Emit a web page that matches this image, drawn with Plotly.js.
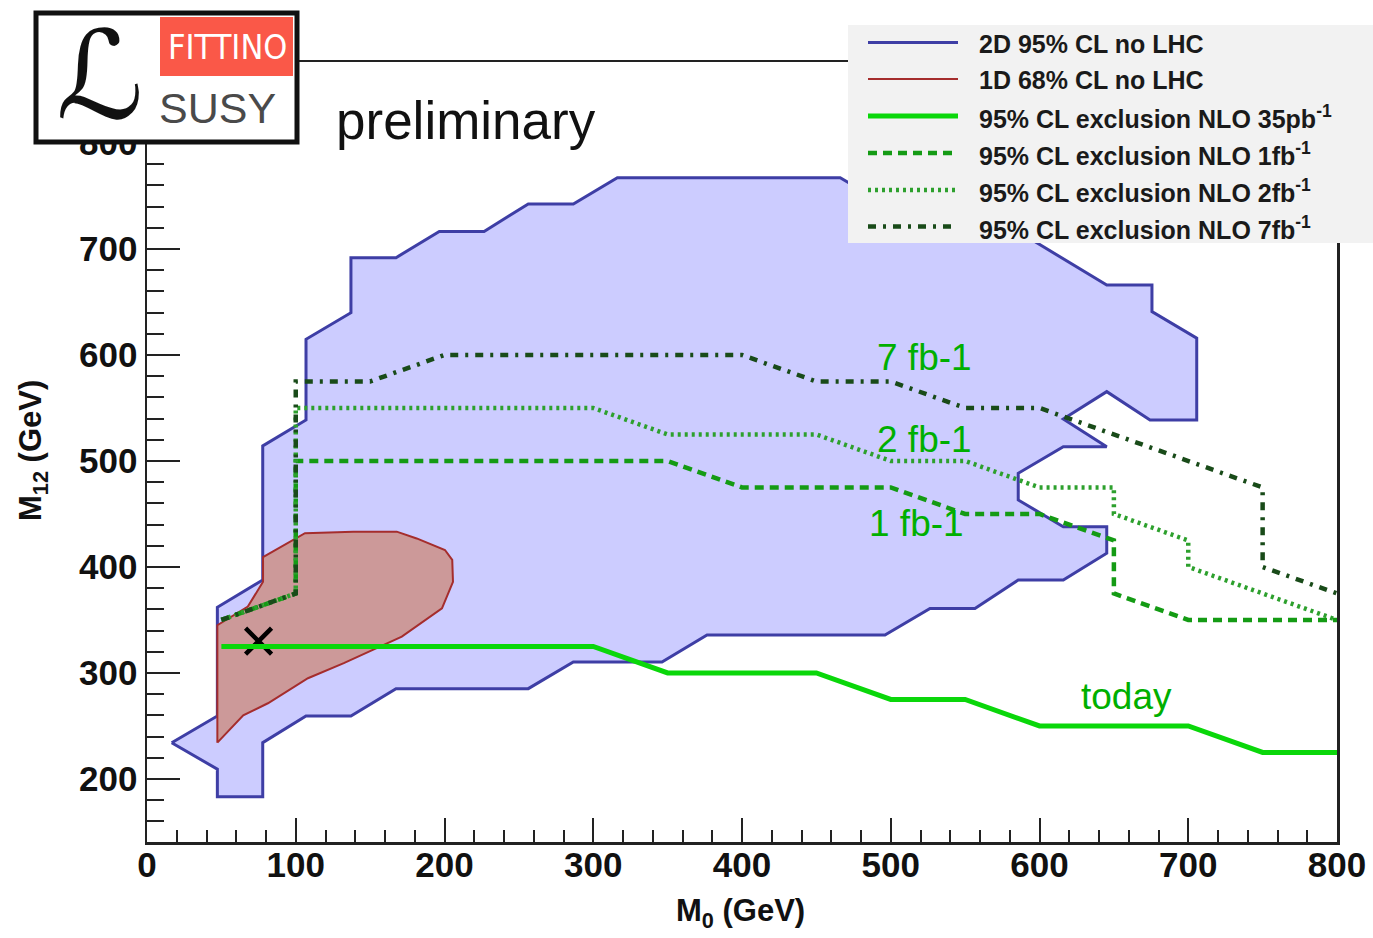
<!DOCTYPE html>
<html>
<head>
<meta charset="utf-8">
<script src="https://cdn.plot.ly/plotly-3.0.1.min.js"></script>
<style>html,body{margin:0;padding:0;background:#fff;}#chart{width:1373px;height:938px;}</style>
</head>
<body>
<div id="chart"></div>
<script>
// ---------------- data ----------------
const seriesNames = [
  '2D 95% CL no LHC',
  '1D 68% CL no LHC',
  '95% CL exclusion NLO 35pb<sup>-1</sup>',
  '95% CL exclusion NLO 1fb<sup>-1</sup>',
  '95% CL exclusion NLO 2fb<sup>-1</sup>',
  '95% CL exclusion NLO 7fb<sup>-1</sup>'
];

// 2D 95% CL region (no LHC)
const blueX = [16.6, 47.3, 47.3, 77.8, 77.8, 106.9, 137.1, 167.4, 256.3, 286.6, 346.2, 376.5, 496.1, 526.4, 556.6, 585.7, 616.0, 645.2, 645.2, 616.0, 585.7, 585.7, 616.0, 645.2, 616.0, 645.2, 674.3, 705.7, 705.7, 675.6, 675.6, 645.2, 585.7, 556.6, 526.4, 496.1, 466.0, 316.2, 286.6, 256.3, 226.6, 196.5, 167.4, 137.1, 137.1, 106.9, 106.9, 77.8, 77.8, 47.3, 47.3, 16.6];
const blueY = [234.2, 209.2, 183.3, 183.3, 234.2, 259.4, 259.4, 285.2, 285.2, 310.4, 310.4, 335.8, 335.8, 360.8, 360.8, 387.7, 387.7, 412.9, 438.0, 438.0, 463.2, 488.4, 513.5, 513.5, 539.5, 565.4, 538.7, 538.7, 615.8, 640.9, 666.0, 666.0, 716.4, 716.4, 742.5, 742.5, 767.3, 767.3, 742.5, 742.5, 716.4, 716.4, 691.8, 691.8, 639.9, 614.8, 538.7, 514.2, 387.7, 362.0, 259.4, 234.2];

// 1D 68% CL region (no LHC)
const redX = [47.3, 47.3, 67.8, 78.0, 78.0, 106.2, 138.7, 167.9, 181.3, 200.3, 205.2, 205.7, 198.3, 171.3, 151.8, 132.3, 108.2, 81.3, 64.7, 47.3];
const redY = [234.2, 345.0, 362.6, 386.0, 409.2, 431.8, 433.3, 433.3, 426.9, 416.0, 406.6, 386.0, 361.0, 334.2, 321.7, 309.2, 295.0, 271.4, 260.0, 234.2];

// exclusion lines
const excl35pbX = [50, 300, 350, 450, 500, 550, 600, 700, 750, 800];
const excl35pbY = [325, 325, 300, 300, 275, 275, 250, 250, 225, 225];
const excl1fbX = [50, 100, 100, 350, 400, 500, 550, 600, 650, 650, 700, 800];
const excl1fbY = [350, 375, 500, 500, 475, 475, 450, 450, 425, 375, 350, 350];
const excl2fbX = [50, 100, 100, 300, 350, 450, 500, 550, 600, 650, 650, 700, 700, 800];
const excl2fbY = [350, 375, 550, 550, 525, 525, 500, 500, 475, 475, 450, 425, 400, 350];
const excl7fbX = [50, 100, 100, 150, 200, 400, 450, 500, 550, 600, 750, 750, 800];
const excl7fbY = [350, 375, 575, 575, 600, 600, 575, 575, 550, 550, 475, 400, 375];

// best fit point
const bestFitX = [75];
const bestFitY = [330];

// tick labels
const xTicks = [0, 100, 200, 300, 400, 500, 600, 700, 800];
const yTicks = [200, 300, 400, 500, 600, 700, 800];

// curve labels
const curveLabels = ['7 fb-1', '2 fb-1', '1 fb-1', 'today'];
const curveLabelX = [522.5, 522.4, 517.6, 658.5];
const curveLabelY = [598, 520, 441, 278];

// ---------------- styles ----------------
const styles = [
  {color: 'rgb(62,62,165)', width: 3, dash: 'solid'},
  {color: 'rgb(165,45,45)', width: 2, dash: 'solid'},
  {color: 'rgb(10,215,10)', width: 5, dash: 'solid'},
  {color: 'rgb(20,155,20)', width: 4.5, dash: '9px,6px'},
  {color: 'rgb(45,160,45)', width: 4.5, dash: '3px,4px'},
  {color: 'rgb(25,75,25)', width: 4.5, dash: '8px,7px,3px,7px'}
];

const traces = [
  {x: blueX, y: blueY, mode: 'lines', fill: 'toself', fillcolor: 'rgb(204,204,255)',
   line: {color: styles[0].color, width: styles[0].width}, name: seriesNames[0], showlegend: false, hoverinfo: 'skip'},
  {x: redX, y: redY, mode: 'lines', fill: 'toself', fillcolor: 'rgb(204,153,153)',
   line: {color: styles[1].color, width: styles[1].width}, name: seriesNames[1], showlegend: false, hoverinfo: 'skip'},
  {x: bestFitX, y: bestFitY, mode: 'markers', name: 'best fit',
   marker: {symbol: 'x-thin-open', size: 26, color: '#000', line: {width: 4.5, color: '#000'}}, showlegend: false},
  {x: excl35pbX, y: excl35pbY, mode: 'lines', line: {color: styles[2].color, width: styles[2].width, dash: styles[2].dash}, name: seriesNames[2], showlegend: false},
  {x: excl1fbX, y: excl1fbY, mode: 'lines', line: {color: styles[3].color, width: styles[3].width, dash: styles[3].dash}, name: seriesNames[3], showlegend: false},
  {x: excl2fbX, y: excl2fbY, mode: 'lines', line: {color: styles[4].color, width: styles[4].width, dash: styles[4].dash}, name: seriesNames[4], showlegend: false},
  {x: excl7fbX, y: excl7fbY, mode: 'lines', line: {color: styles[5].color, width: styles[5].width, dash: styles[5].dash}, name: seriesNames[5], showlegend: false}
];

// pixel -> paper helpers (plot area: x 147..1337, y 62..842)
const L = 147, R = 1337, T = 62, B = 842;
const px = v => (v - L) / (R - L);
const py = v => (B - v) / (B - T);

const FONT = 'Liberation Sans, Arial, Helvetica, sans-serif';

const shapes = [];
const annotations = [];
function note(o) {
  annotations.push(Object.assign({xref: 'paper', yref: 'paper', xanchor: 'center', yanchor: 'middle', showarrow: false}, o));
}

// legend box
shapes.push({type: 'rect', xref: 'paper', yref: 'paper', x0: px(848), x1: px(1380), y0: py(25), y1: py(243),
  fillcolor: 'rgb(242,242,242)', line: {width: 0}, layer: 'above'});
const rowY = [42.5, 79, 116, 153, 190, 226.5];
seriesNames.forEach((n, i) => {
  shapes.push({type: 'line', xref: 'paper', yref: 'paper', x0: px(868), x1: px(958), y0: py(rowY[i]), y1: py(rowY[i]),
    line: {color: styles[i].color, width: styles[i].width, dash: styles[i].dash}, layer: 'above'});
  note({x: px(977), y: py(rowY[i] + 1), xanchor: 'left', text: n,
    font: {family: FONT, size: 25, weight: 'bold', color: '#1a1a1a'}});
});

// logo
shapes.push({type: 'rect', xref: 'paper', yref: 'paper', x0: px(36), x1: px(297), y0: py(13), y1: py(142),
  fillcolor: '#fff', line: {color: '#111', width: 5}, layer: 'above'});
shapes.push({type: 'rect', xref: 'paper', yref: 'paper', x0: px(160), x1: px(293), y0: py(17), y1: py(76),
  fillcolor: 'rgb(250,88,72)', line: {width: 0}, layer: 'above'});
note({x: px(227), y: py(47), text: 'FITTINO',
  font: {family: 'Liberation Sans Narrow, DejaVu Sans Condensed, sans-serif', size: 34, color: '#fff'}});
note({x: px(100), y: py(76), text: '\u2112',
  font: {family: 'DejaVu Sans, sans-serif', size: 122, color: '#111'}});
note({x: px(217), y: py(108), text: 'SUSY',
  font: {family: FONT, size: 43, color: '#4a4a4a'}});

// preliminary
note({x: px(466), y: py(121), text: 'preliminary',
  font: {family: FONT, size: 53, color: '#111'}});

// curve labels
curveLabels.forEach((t, i) => {
  annotations.push({xref: 'x', yref: 'y', x: curveLabelX[i], y: curveLabelY[i], xanchor: 'center', yanchor: 'middle',
    text: t, showarrow: false, font: {family: FONT, size: 37, color: 'rgb(0,175,0)'}});
});

// axis titles
note({x: px(740), y: py(913), text: 'M<sub>0</sub> (GeV)',
  font: {family: FONT, size: 31, weight: 'bold', color: '#111'}});
note({x: px(33), y: py(450), text: 'M<sub>12</sub> (GeV)', textangle: -90,
  font: {family: FONT, size: 31, weight: 'bold', color: '#111'}});

const axisCommon = {
  showgrid: false, zeroline: false, showline: true, linecolor: '#222', linewidth: 2.5, mirror: true,
  ticks: 'inside', tickwidth: 2, tickcolor: '#222', tickmode: 'array',
  tickfont: {family: FONT, size: 35, weight: 'bold', color: '#111'}
};

const layout = {
  width: 1373, height: 938,
  margin: {l: L, r: 1373 - R, t: T, b: 938 - B, pad: 0},
  paper_bgcolor: '#fff', plot_bgcolor: '#fff',
  showlegend: false,
  xaxis: Object.assign({}, axisCommon, {range: [0, 800], tickvals: xTicks, ticktext: xTicks.map(String), ticklen: 24,
    ticklabelstandoff: -10,
    minor: {dtick: 20, tick0: 0, ticks: 'inside', ticklen: 12, tickwidth: 2, tickcolor: '#222'}}),
  yaxis: Object.assign({}, axisCommon, {range: [140.5, 876.4], tickvals: yTicks, ticktext: yTicks.map(String), ticklen: 33,
    minor: {dtick: 20, tick0: 0, ticks: 'inside', ticklen: 17, tickwidth: 2, tickcolor: '#222'}}),
  shapes: shapes,
  annotations: annotations
};

Plotly.newPlot('chart', traces, layout, {displayModeBar: false, staticPlot: true});
</script>
</body>
</html>
